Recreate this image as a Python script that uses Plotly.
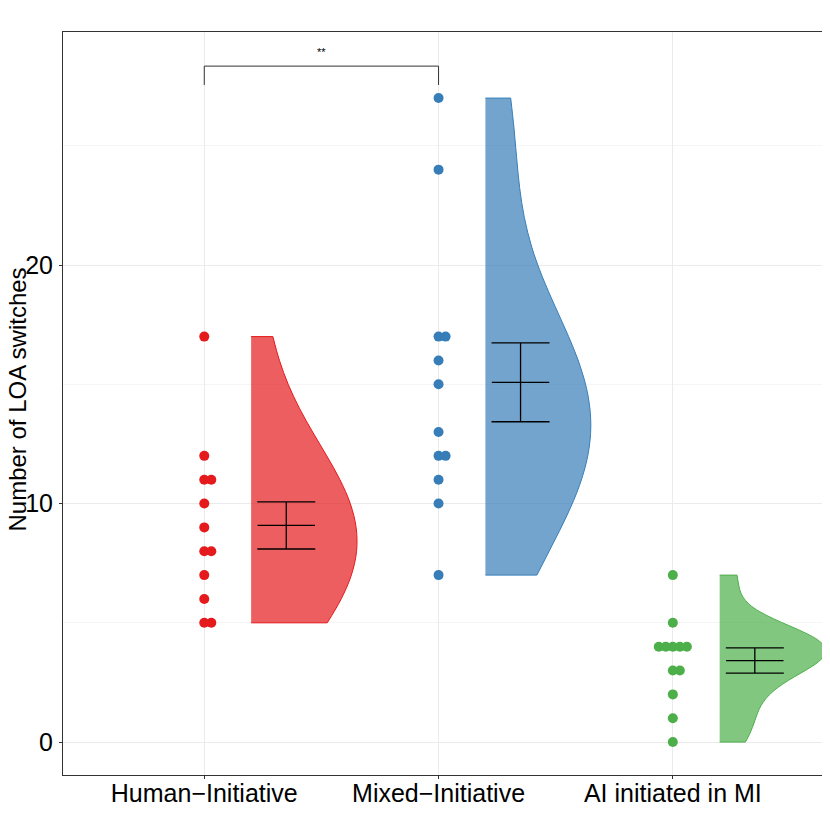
import numpy as np
import plotly.graph_objects as go

GROUPS = ["Human\u2212Initiative", "Mixed\u2212Initiative", "AI initiated in MI"]
COLORS = ["#E41A1C", "#377EB8", "#4DAF4A"]
FILLS = ["rgba(228,26,28,0.7)", "rgba(55,126,184,0.7)", "rgba(77,175,74,0.7)"]

human = [17, 12, 11, 11, 10, 9, 8, 8, 7, 6, 5, 5]
mixed = [27, 24, 17, 17, 16, 15, 13, 12, 12, 11, 10, 7]
ai_mi = [7, 5, 4, 4, 4, 4, 4, 3, 3, 2, 1, 0]

SERIES = [human, mixed, ai_mi]
Y_TITLE = "Number of LOA switches"
SIG_LABEL = "**"
BW_ADJUST = 1.8


def nrd0(v):
    v = np.asarray(v, float)
    sd = v.std(ddof=1)
    iqr = np.subtract(*np.percentile(v, [75, 25])) / 1.34
    lo = min(sd, iqr) if iqr > 0 else sd
    return 0.9 * lo * len(v) ** (-0.2)


def swarm_offsets(v, step=0.03):
    seen = {}
    order = [0, 1, -1, 2, -2, 3, -3]
    out = []
    for val in v:
        k = seen.get(val, 0)
        seen[val] = k + 1
        out.append(order[k] * step)
    return out


fig = go.Figure()

for i, vals in enumerate(SERIES):
    pos = i + 1
    arr = np.asarray(vals, float)

    # raw points, stacked sideways when values repeat
    fig.add_trace(go.Scatter(
        x=[pos + o for o in swarm_offsets(vals)], y=vals,
        mode="markers",
        marker=dict(size=10, color=COLORS[i]),
        showlegend=False, hoverinfo="y",
    ))

    # half violin
    fig.add_trace(go.Violin(
        x=[pos + 0.2] * len(vals), y=vals,
        side="positive", width=0.9, scalemode="width",
        spanmode="hard", bandwidth=nrd0(vals) * BW_ADJUST,
        points=False, box_visible=False, meanline_visible=False,
        fillcolor=FILLS[i], line=dict(color=COLORS[i], width=1),
        showlegend=False, hoverinfo="skip",
    ))

    # mean +/- standard error
    mean = arr.mean()
    se = arr.std(ddof=1) / np.sqrt(len(arr))
    fig.add_trace(go.Scatter(
        x=[pos + 0.35], y=[mean],
        mode="markers",
        marker=dict(symbol="line-ew", size=41, color="black",
                    line=dict(color="black", width=1.3)),
        error_y=dict(type="constant", value=se, width=29,
                     color="black", thickness=1.3),
        showlegend=False, hoverinfo="skip",
    ))

# significance bracket between first two groups
fig.add_shape(type="path", path="M 1,27.55 L 1,28.34 L 2,28.34 L 2,27.55",
              line=dict(color="#333333", width=1), xref="x", yref="y")
fig.add_annotation(x=1.5, y=28.95, text=SIG_LABEL, showarrow=False,
                   font=dict(size=11, color="black"))

# y axis title placed by hand so it sits at the far left like ggplot
fig.add_annotation(x=0, y=0.5, xref="paper", yref="paper", text=Y_TITLE,
                   textangle=-90, showarrow=False, xanchor="center",
                   yanchor="middle", xshift=-46, yshift=4,
                   font=dict(size=24, color="black"))

fig.update_layout(
    width=815, height=815,
    paper_bgcolor="white", plot_bgcolor="white",
    margin=dict(l=55, r=0, t=24, b=48),
    font=dict(family="Liberation Sans, Arial, sans-serif", color="black"),
    violinmode="overlay",
    xaxis=dict(
        range=[0.397, 3.641], tickvals=[1, 2, 3], ticktext=GROUPS,
        showgrid=True, gridcolor="#ebebeb", gridwidth=1, zeroline=False,
        ticks="outside", ticklen=3, tickcolor="#333333",
        tickfont=dict(size=25, color="black"), automargin=False,
        ticklabelstandoff=-7,
        showline=True, linecolor="#333333", linewidth=1, mirror=True,
    ),
    yaxis=dict(
        range=[-1.38, 29.77], tickvals=[0, 10, 20],
        showgrid=True, gridcolor="#ebebeb", gridwidth=1, zeroline=False,
        minor=dict(tickvals=[5, 15, 25], showgrid=True, gridcolor="#f5f5f5", gridwidth=0.7),
        ticks="outside", ticklen=3, tickcolor="#333333",
        tickfont=dict(size=25, color="black"), automargin=False,
        ticklabelstandoff=1,
        showline=True, linecolor="#333333", linewidth=1, mirror=True,
    ),
)

fig.write_html("out.html")
